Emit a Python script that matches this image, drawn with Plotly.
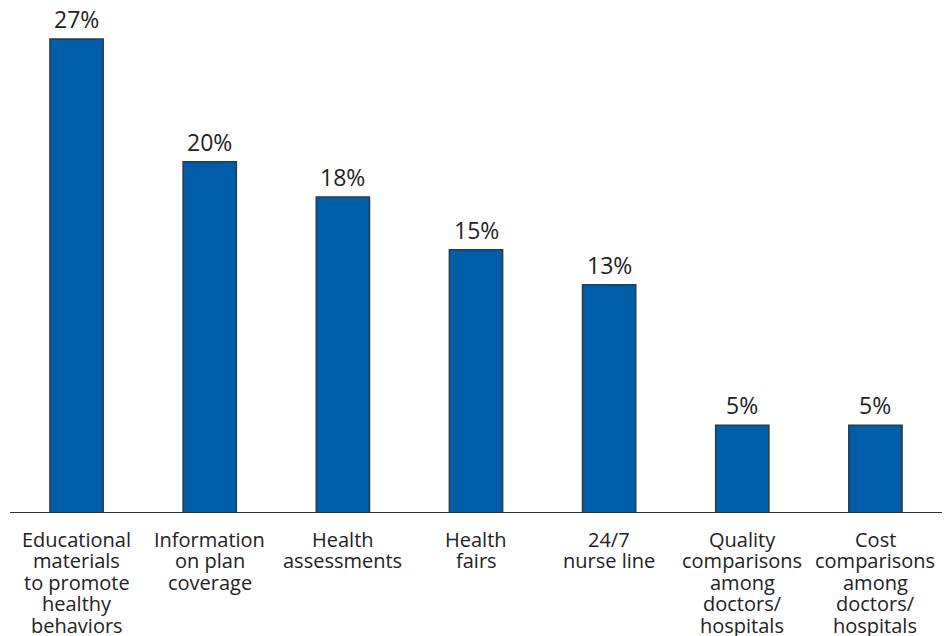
import plotly.graph_objects as go

# Data
categories = [
    "Educational<br>materials<br>to promote<br>healthy<br>behaviors",
    "Information<br>on plan<br>coverage",
    "Health<br>assessments",
    "Health<br>fairs",
    "24/7<br>nurse line",
    "Quality<br>comparisons<br>among<br>doctors/<br>hospitals",
    "Cost<br>comparisons<br>among<br>doctors/<br>hospitals",
]
values = [27, 20, 18, 15, 13, 5, 5]
value_labels = [f"{v}%" for v in values]

font_family = "'Open Sans', Lato, sans-serif"
text_color = "#222222"
x_pos = list(range(len(categories)))

fig = go.Figure(go.Bar(
    x=x_pos,
    y=values,
    width=0.4,
    marker=dict(color="#005DA8", line=dict(color="#2B3A4A", width=1.5)),
    hoverinfo="skip",
))

# value labels above the bars
for i, (v, lbl) in enumerate(zip(values, value_labels)):
    fig.add_annotation(
        x=i, y=v, xref="x", yref="y",
        text=lbl,
        showarrow=False,
        yanchor="bottom",
        yshift=2,
        font=dict(size=23, color=text_color, family=font_family),
    )

# category labels, one annotation per line so the line spacing stays tight
for i, label in enumerate(categories):
    for j, line in enumerate(label.split("<br>")):
        fig.add_annotation(
            x=i, y=0, xref="x", yref="paper",
            text=line,
            showarrow=False,
            yanchor="middle",
            yshift=-26 - j * 21.5,
            font=dict(size=20, color=text_color, family=font_family),
        )

# page body has an 8px margin, so the figure is shrunk to fit the window
fig.update_layout(
    width=942,
    height=628,
    margin=dict(l=2, r=8, t=12, b=123),
    paper_bgcolor="white",
    plot_bgcolor="white",
    showlegend=False,
    xaxis=dict(
        range=[-0.5, 6.5],
        showticklabels=False,
        showgrid=False,
        zeroline=False,
        showline=False,
        ticks="",
    ),
    yaxis=dict(
        range=[0, 28.08],
        visible=False,
        showgrid=False,
        zeroline=False,
    ),
    shapes=[dict(
        type="line", xref="paper", yref="y",
        x0=0, x1=1, y0=0, y1=0,
        line=dict(color="#333333", width=2),
    )],
)

fig.write_html("out.html")
